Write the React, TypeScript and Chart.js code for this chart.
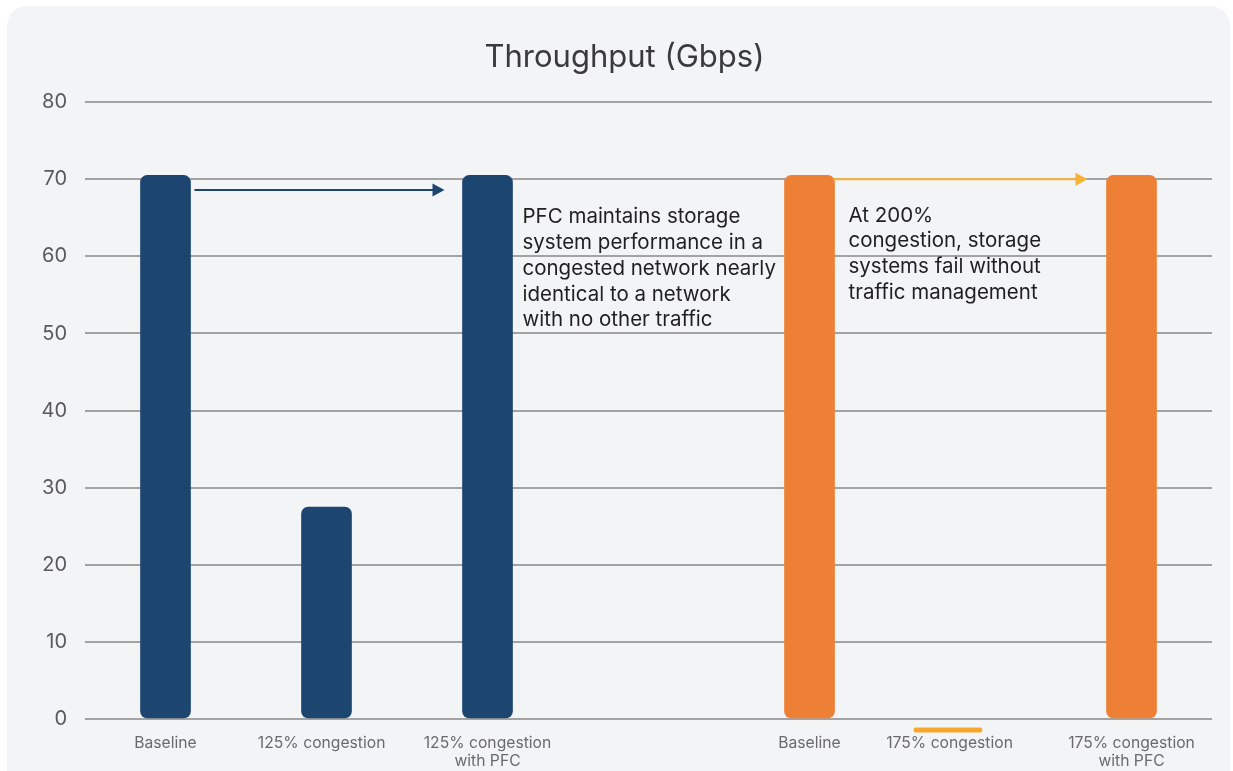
import React, { useEffect, useRef } from "react";
import { Chart, registerables } from "chart.js";

Chart.register(...registerables);

// ---- data ----
const tickPositions = [0, 0.97, 2, 4, 4.87, 6];
const tickLabels: (string | string[])[] = [
  "Baseline",
  "125% congestion",
  ["125% congestion", "with PFC"],
  "Baseline",
  "175% congestion",
  ["175% congestion", "with PFC"],
];
const blueX = [0, 1, 2];
const blueValues = [70.5, 27.5, 70.5];
const orangeX = [4, 6];
const orangeValues = [70.5, 70.5];
const failX = [4.86];
const failRange: [number, number][] = [[-1.7, -1.15]];

const arrowFrom = [0, 4];
const arrowTo = [2, 6];
const arrowLevel = [68.6, 70.0];

const noteX = [2, 4];
const noteLevel = [65.1, 65.3];
const noteLines: string[][] = [
  [
    "PFC maintains storage",
    "system performance in a",
    "congested network nearly",
    "identical to a network",
    "with no other traffic",
  ],
  ["At 200%", "congestion, storage", "systems fail without", "traffic management"],
];

const titleText = "Throughput (Gbps)";

// ---- styles ----
const BLUE = "#1c4570";
const ORANGE = "#ee8035";
const YELLOW = "#f7a82c";
const arrowColors = [BLUE, "#f8b236"];
const arrowStartOffset = [29, 24];
const arrowEndOffset = [-43, -44];
const noteOffset = [35, 39];
const FONT = "Inter, 'Noto Sans', sans-serif";

const overlayPlugin = {
  id: "overlay",
  afterDatasetsDraw(chart: any) {
    const { ctx, scales } = chart;
    const xs = scales.x;
    const ys = scales.y;
    ctx.save();
    // arrows
    arrowFrom.forEach((f, i) => {
      const x1 = xs.getPixelForValue(f) + arrowStartOffset[i];
      const x2 = xs.getPixelForValue(arrowTo[i]) + arrowEndOffset[i];
      const y = ys.getPixelForValue(arrowLevel[i]);
      ctx.strokeStyle = arrowColors[i];
      ctx.fillStyle = arrowColors[i];
      ctx.lineWidth = 2;
      ctx.beginPath();
      ctx.moveTo(x1, y);
      ctx.lineTo(x2 - 10, y);
      ctx.stroke();
      ctx.beginPath();
      ctx.moveTo(x2, y);
      ctx.lineTo(x2 - 12, y - 6.5);
      ctx.lineTo(x2 - 12, y + 6.5);
      ctx.closePath();
      ctx.fill();
    });
    // notes
    ctx.fillStyle = "#1f1f1f";
    ctx.font = `20.5px ${FONT}`;
    ctx.textAlign = "left";
    ctx.textBaseline = "middle";
    noteX.forEach((nx, i) => {
      const x = xs.getPixelForValue(nx) + noteOffset[i];
      const y0 = ys.getPixelForValue(noteLevel[i]);
      noteLines[i].forEach((line, j) => {
        ctx.fillText(line, x, y0 + j * 25.8);
      });
    });
    ctx.restore();
  },
};

export default function App() {
  const ref = useRef<HTMLCanvasElement>(null);
  useEffect(() => {
    if (!ref.current) return;
    const chart = new Chart(ref.current, {
      type: "bar",
      data: {
        datasets: [
          {
            data: blueX.map((x, i) => ({ x, y: blueValues[i] })),
            backgroundColor: BLUE,
            barThickness: 50,
            borderRadius: 7,
            borderSkipped: false,
          },
          {
            data: orangeX.map((x, i) => ({ x, y: orangeValues[i] })),
            backgroundColor: ORANGE,
            barThickness: 50,
            borderRadius: 7,
            borderSkipped: false,
          },
          {
            data: failX.map((x, i) => ({ x, y: failRange[i] })),
            backgroundColor: YELLOW,
            barThickness: 68,
            borderRadius: 2,
            borderSkipped: false,
          },
        ] as any,
      },
      options: {
        animation: false,
        responsive: false,
        grouped: false,
        layout: { padding: { left: 30, right: 18, top: 0, bottom: 0 } },
        plugins: {
          legend: { display: false },
          tooltip: { enabled: false },
          title: {
            display: true,
            text: titleText,
            color: "#3a3a3a",
            font: { family: FONT, size: 31, weight: "normal" },
            padding: { top: 33, bottom: 26 },
          },
        },
        scales: {
          x: {
            type: "linear",
            min: -0.5,
            max: 6.5,
            offset: false,
            grid: { display: false, offset: false },
            border: { display: false },
            afterBuildTicks(scale: any) {
              scale.ticks = tickPositions.map((v) => ({ value: v }));
            },
            afterFit(scale: any) {
              scale.height = 36.6;
            },
            ticks: {
              autoSkip: false,
              maxRotation: 0,
              padding: -8,
              color: "#6a6a6a",
              font: { family: FONT, size: 15.7, lineHeight: 1.15 },
              callback: (_v: any, i: number) => tickLabels[i],
            },
          },
          y: {
            min: -2,
            max: 80,
            afterFit(scale: any) {
              scale.width = 48;
            },
            border: { display: false },
            grid: { color: "#a3a3a3", lineWidth: 2, drawTicks: false },
            ticks: {
              stepSize: 10,
              includeBounds: false,
              padding: 18,
              color: "#5a5a5a",
              font: { family: FONT, size: 20 },
            },
          },
        },
      } as any,
      plugins: [overlayPlugin],
    });
    return () => chart.destroy();
  }, []);

  return (
    <div style={{ position: "fixed", inset: 0, background: "#fff", overflow: "hidden" }}>
      <div
        style={{
          position: "absolute",
          left: 7,
          top: 6,
          width: 1223,
          height: 800,
          background: "#f3f4f6",
          borderRadius: 20,
        }}
      >
        <canvas
          ref={ref}
          width={1223}
          height={765}
          style={{ position: "absolute", left: 0, top: 0, width: 1223, height: 765 }}
        />
      </div>
    </div>
  );
}
